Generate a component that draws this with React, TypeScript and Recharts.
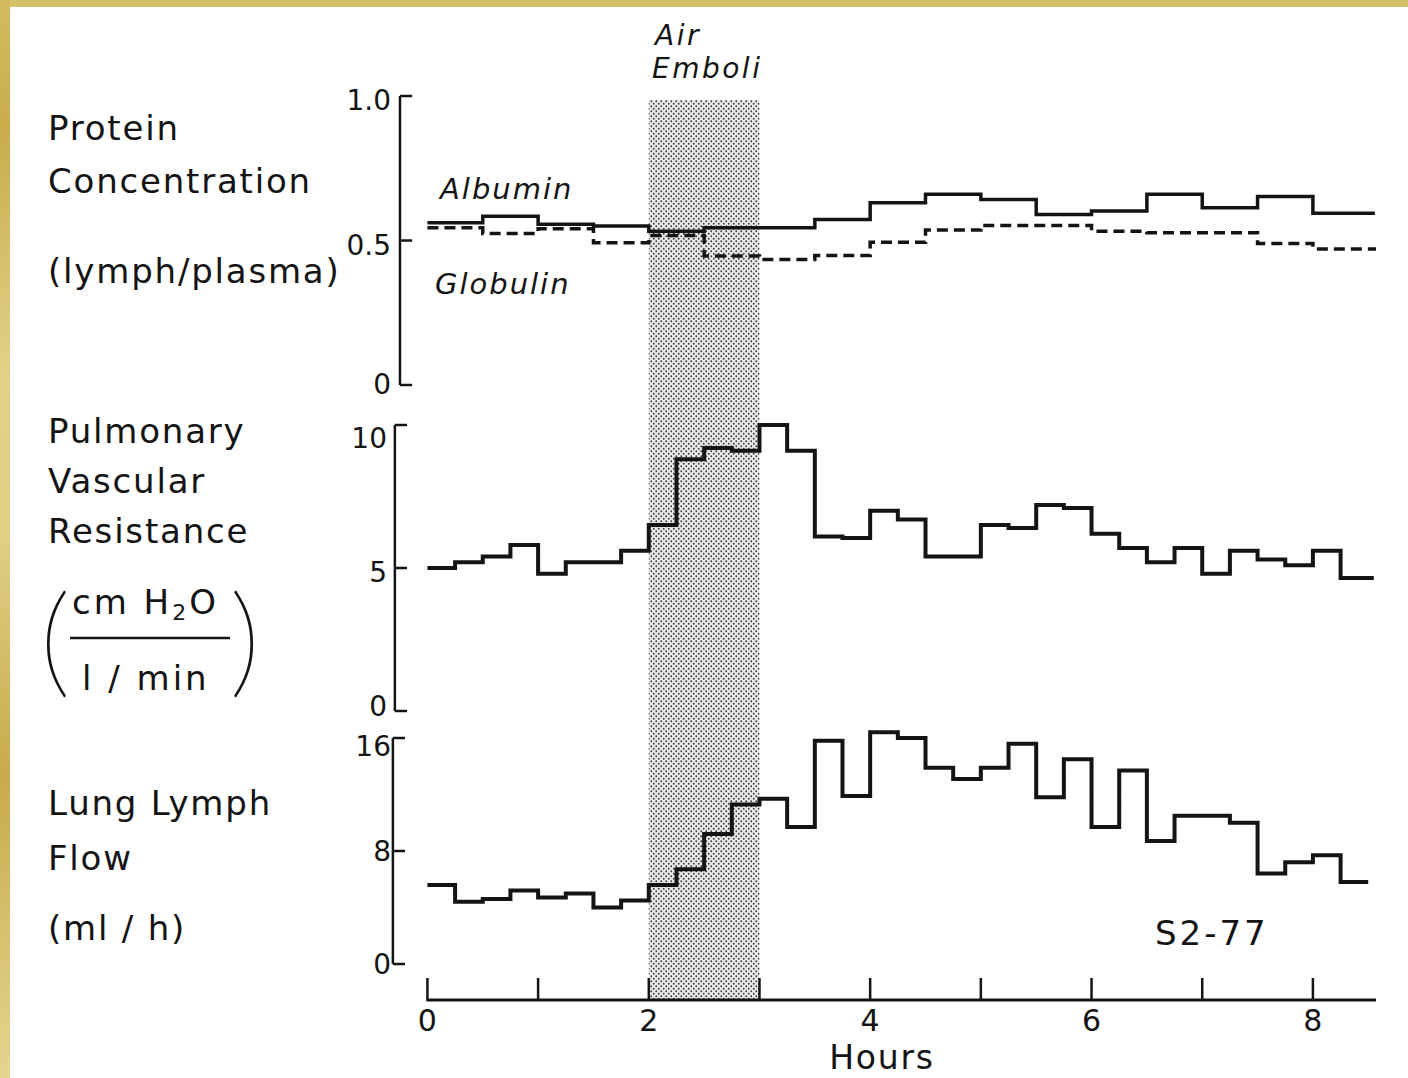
import React from 'react';
import {
  LineChart,
  Line,
  XAxis,
  YAxis,
  ReferenceArea,
  ReferenceLine,
} from 'recharts';

// sampling times, hours after start
const QUARTER_HOURS = [
  0, 0.25, 0.5, 0.75, 1, 1.25, 1.5, 1.75, 2, 2.25, 2.5, 2.75, 3, 3.25, 3.5, 3.75, 4,
  4.25, 4.5, 4.75, 5, 5.25, 5.5, 5.75, 6, 6.25, 6.5, 6.75, 7, 7.25, 7.5, 7.75, 8, 8.25,
];
const HALF_HOURS = [0, 0.5, 1, 1.5, 2, 2.5, 3, 3.5, 4, 4.5, 5, 5.5, 6, 6.5, 7, 7.5, 8];

// protein concentration, lymph/plasma ratio (per half hour)
const ALBUMIN = [
  0.561, 0.584, 0.556, 0.55, 0.532, 0.544, 0.544, 0.573, 0.631, 0.66, 0.642, 0.59, 0.602,
  0.66, 0.613, 0.652, 0.594,
];
const GLOBULIN = [
  0.544, 0.524, 0.541, 0.492, 0.517, 0.446, 0.434, 0.448, 0.494, 0.536, 0.552, 0.552, 0.532,
  0.527, 0.527, 0.49, 0.471,
];
const PROTEIN_END = 8.56;

// pulmonary vascular resistance, cm H2O / l/min (per quarter hour)
const PVR = [
  5.0, 5.2, 5.4, 5.8, 4.8, 5.2, 5.2, 5.6, 6.5, 8.8, 9.2, 9.1, 10.0, 9.1, 6.1, 6.05, 7.0,
  6.7, 5.4, 5.4, 6.5, 6.4, 7.2, 7.1, 6.2, 5.7, 5.2, 5.7, 4.8, 5.6, 5.3, 5.1, 5.6, 4.65,
];
const PVR_END = 8.55;

// lung lymph flow, ml/h (per quarter hour)
const LYMPH_FLOW = [
  5.6, 4.4, 4.6, 5.2, 4.7, 5.0, 4.0, 4.5, 5.6, 6.7, 9.2, 11.3, 11.7, 9.7, 15.8, 11.9, 16.4,
  16.0, 13.9, 13.1, 13.9, 15.6, 11.8, 14.5, 9.7, 13.7, 8.7, 10.5, 10.5, 10.0, 6.4, 7.2, 7.7, 5.8,
];
const LYMPH_END = 8.5;

const HOUR_TICKS = [0, 1, 2, 3, 4, 5, 6, 7, 8];
const HOUR_LABELS = ['0', '', '2', '', '4', '', '6', '', '8'];
const PROTEIN_TICKS = [0, 0.5, 1];
const PROTEIN_LABELS = ['0', '0.5', '1.0'];
const PVR_TICKS = [0, 5, 10];
const PVR_LABELS = ['0', '5', '10'];
const FLOW_TICKS = [0, 8, 16];
const FLOW_LABELS = ['0', '8', '16'];

const EMBOLI_START = 2;
const EMBOLI_END = 3;

// layout
const W = 1408;
const H = 1078;
const PLOT_TOP = 96;
const PLOT_BOTTOM = 1000;
const PLOT_LEFT = 392;
const XAXIS_H = 60;
const X_DOMAIN: [number, number] = [-0.32, 8.57];
const FONT = "'DejaVu Sans', 'Liberation Sans', sans-serif";
const INK = '#141414';

// each panel sits in its own band of the shared plot height
function stackedDomain(topPx: number, zeroPx: number, topVal: number): [number, number] {
  const perPx = topVal / (zeroPx - topPx);
  return [-(PLOT_BOTTOM - zeroPx) * perPx, topVal + (topPx - PLOT_TOP) * perPx];
}
const PROTEIN_DOMAIN = stackedDomain(96, 385, 1);
const PVR_DOMAIN = stackedDomain(425, 711, 10);
const FLOW_DOMAIN = stackedDomain(738, 964, 16);

const stepData = (hours: number[], values: number[], end: number) => [
  ...values.map((v, i) => ({ h: hours[i], v })),
  { h: end, v: values[values.length - 1] },
];

const albuminData = stepData(HALF_HOURS, ALBUMIN, PROTEIN_END);
const globulinData = stepData(HALF_HOURS, GLOBULIN, PROTEIN_END + 0.02);
const pvrData = stepData(QUARTER_HOURS, PVR, PVR_END);
const flowData = stepData(QUARTER_HOURS, LYMPH_FLOW, LYMPH_END);

const panels = [
  { id: 'protein', axisH: -0.248, top: 1, ticks: PROTEIN_TICKS },
  { id: 'pvr', axisH: -0.294, top: 10, ticks: PVR_TICKS },
  { id: 'flow', axisH: -0.312, top: 16, ticks: FLOW_TICKS },
];

const HourTick = (props: any) => {
  const { x, y, payload } = props;
  const label = HOUR_LABELS[HOUR_TICKS.indexOf(payload.value)];
  return (
    <g>
      <line x1={x} y1={y - 22} x2={x} y2={y} stroke={INK} strokeWidth={2.5} />
      {label ? (
        <text x={x} y={y + 31} textAnchor="middle" fontSize={30} fontFamily={FONT} fill={INK}>
          {label}
        </text>
      ) : null}
    </g>
  );
};

// value labels sit a little off their tick marks, as on the original figure
const makeYTick = (values: number[], labels: string[], shifts: number[]) => (props: any) => {
  const i = values.indexOf(props.payload.value);
  return (
    <text
      x={props.x}
      y={props.y + (shifts[i] || 0)}
      textAnchor="end"
      dominantBaseline="central"
      fontSize={28}
      fontFamily={FONT}
      fill={INK}
    >
      {labels[i]}
    </text>
  );
};

export default function App() {
  const t = { fontFamily: FONT, fill: INK, fontSize: 34, letterSpacing: 1.8 };
  const it = { fontFamily: FONT, fill: INK, fontSize: 28, fontStyle: 'italic', letterSpacing: 2.5 };
  const paren = {
    fontFamily: 'Lato, sans-serif',
    fontWeight: 100,
    fontSize: 120,
    fill: INK,
    stroke: INK,
    strokeWidth: 1.4,
  };
  return (
    <div
      style={{
        position: 'absolute',
        left: 0,
        top: 0,
        width: W,
        height: H,
        background: '#fff',
        overflow: 'hidden',
      }}
    >
      <svg width={0} height={0} style={{ position: 'absolute' }}>
        <defs>
          <pattern id="emboliDots" patternUnits="userSpaceOnUse" width={5} height={5}>
            <rect width={5} height={5} fill="#e8e8e8" />
            <circle cx={1.25} cy={1.25} r={0.9} fill="#3a3a3a" />
            <circle cx={3.75} cy={3.75} r={0.9} fill="#3a3a3a" />
          </pattern>
          <linearGradient id="goldEdge" x1="0" y1="0" x2="0" y2="1">
            <stop offset="0" stopColor="#d3bb5e" />
            <stop offset="0.12" stopColor="#c9ad4b" />
            <stop offset="0.35" stopColor="#e2d28a" />
            <stop offset="0.5" stopColor="#dfce84" />
            <stop offset="0.72" stopColor="#c8ab4a" />
            <stop offset="1" stopColor="#e4d590" />
          </linearGradient>
        </defs>
      </svg>

      <div style={{ position: 'absolute', left: 0, top: 0 }}>
        <LineChart
          width={W}
          height={H}
          margin={{
            top: PLOT_TOP,
            left: PLOT_LEFT - 3,
            right: W - 1376,
            bottom: H - PLOT_BOTTOM - XAXIS_H,
          }}
        >
          <XAxis
            type="number"
            dataKey="h"
            domain={X_DOMAIN}
            allowDataOverflow
            ticks={HOUR_TICKS}
            height={XAXIS_H}
            axisLine={false}
            tickLine={false}
            tickSize={0}
            tickMargin={0}
            tick={<HourTick />}
            interval={0}
          />
          <YAxis
            yAxisId="protein"
            type="number"
            domain={PROTEIN_DOMAIN}
            allowDataOverflow
            ticks={PROTEIN_TICKS}
            width={1}
            axisLine={false}
            tickLine={false}
            tickSize={0}
            tickMargin={0}
            tick={makeYTick(PROTEIN_TICKS, PROTEIN_LABELS, [-1, 5, 4])}
            interval={0}
          />
          <YAxis
            yAxisId="pvr"
            type="number"
            domain={PVR_DOMAIN}
            allowDataOverflow
            ticks={PVR_TICKS}
            width={1}
            axisLine={false}
            tickLine={false}
            tickSize={0}
            tickMargin={3}
            tick={makeYTick(PVR_TICKS, PVR_LABELS, [-5, 4, 13])}
            interval={0}
          />
          <YAxis
            yAxisId="flow"
            type="number"
            domain={FLOW_DOMAIN}
            allowDataOverflow
            ticks={FLOW_TICKS}
            width={1}
            axisLine={false}
            tickLine={false}
            tickSize={0}
            tickMargin={1}
            tick={makeYTick(FLOW_TICKS, FLOW_LABELS, [0, 0, 8])}
            interval={0}
          />

          <ReferenceArea
            yAxisId="protein"
            x1={EMBOLI_START}
            x2={EMBOLI_END}
            y1={PROTEIN_DOMAIN[0]}
            y2={0.986}
            fill="url(#emboliDots)"
            fillOpacity={1}
            stroke="none"
            ifOverflow="visible"
          />

          {panels.map((p) => (
            <ReferenceLine
              key={`axis-${p.id}`}
              yAxisId={p.id}
              segment={[
                { x: p.axisH, y: 0 },
                { x: p.axisH, y: p.top },
              ]}
              stroke={INK}
              strokeWidth={2.5}
              ifOverflow="visible"
            />
          ))}
          {panels.flatMap((p) =>
            p.ticks.map((v) => (
              <ReferenceLine
                key={`tick-${p.id}-${v}`}
                yAxisId={p.id}
                segment={[
                  { x: p.axisH, y: v },
                  { x: p.axisH + 0.11, y: v },
                ]}
                stroke={INK}
                strokeWidth={2.5}
                ifOverflow="visible"
              />
            )),
          )}
          <ReferenceLine
            yAxisId="flow"
            segment={[
              { x: -0.01, y: FLOW_DOMAIN[0] },
              { x: X_DOMAIN[1], y: FLOW_DOMAIN[0] },
            ]}
            stroke={INK}
            strokeWidth={3}
            ifOverflow="visible"
          />

          <Line
            yAxisId="protein"
            data={albuminData}
            dataKey="v"
            type="stepAfter"
            stroke={INK}
            strokeWidth={3.5}
            dot={false}
            activeDot={false}
            isAnimationActive={false}
          />
          <Line
            yAxisId="protein"
            data={globulinData}
            dataKey="v"
            type="stepAfter"
            stroke={INK}
            strokeWidth={3.5}
            strokeDasharray="11 6"
            dot={false}
            activeDot={false}
            isAnimationActive={false}
          />
          <Line
            yAxisId="pvr"
            data={pvrData}
            dataKey="v"
            type="stepAfter"
            stroke={INK}
            strokeWidth={4}
            dot={false}
            activeDot={false}
            isAnimationActive={false}
          />
          <Line
            yAxisId="flow"
            data={flowData}
            dataKey="v"
            type="stepAfter"
            stroke={INK}
            strokeWidth={4}
            dot={false}
            activeDot={false}
            isAnimationActive={false}
          />
        </LineChart>
      </div>

      <svg
        width={W}
        height={H}
        style={{ position: 'absolute', left: 0, top: 0, pointerEvents: 'none' }}
      >
        <rect x={0} y={0} width={W} height={7} fill="#d6c068" />
        <rect x={0} y={0} width={10} height={H} fill="url(#goldEdge)" />

        <text x={48} y={140} {...t}>Protein</text>
        <text x={48} y={193} {...t}>Concentration</text>
        <text x={48} y={283} {...t}>(lymph/plasma)</text>

        <text x={48} y={443} {...t}>Pulmonary</text>
        <text x={48} y={493} {...t}>Vascular</text>
        <text x={48} y={543} {...t}>Resistance</text>
        <text x={40} y={682} {...paren}>(</text>
        <text x={72} y={614} {...t} letterSpacing={3}>
          cm H<tspan fontSize={22} dy={6}>2</tspan>
          <tspan dy={-6}>O</tspan>
        </text>
        <line x1={70} y1={638} x2={230} y2={638} stroke={INK} strokeWidth={2.5} />
        <text x={82} y={690} {...t} letterSpacing={3}>l / min</text>
        <text x={230} y={682} {...paren}>)</text>

        <text x={48} y={815} {...t}>Lung Lymph</text>
        <text x={48} y={870} {...t}>Flow</text>
        <text x={48} y={940} {...t}>(ml / h)</text>

        <text x={440} y={199} {...it} fontSize={29} letterSpacing={2}>Albumin</text>
        <text x={435} y={294} {...it} fontSize={29} letterSpacing={2}>Globulin</text>
        <text x={655} y={45} {...it}>Air</text>
        <text x={652} y={78} {...it}>Emboli</text>

        <text x={1155} y={945} {...t} letterSpacing={3}>S2-77</text>
        <text x={882} y={1069} {...t} fontSize={33} textAnchor="middle">Hours</text>
      </svg>
    </div>
  );
}
